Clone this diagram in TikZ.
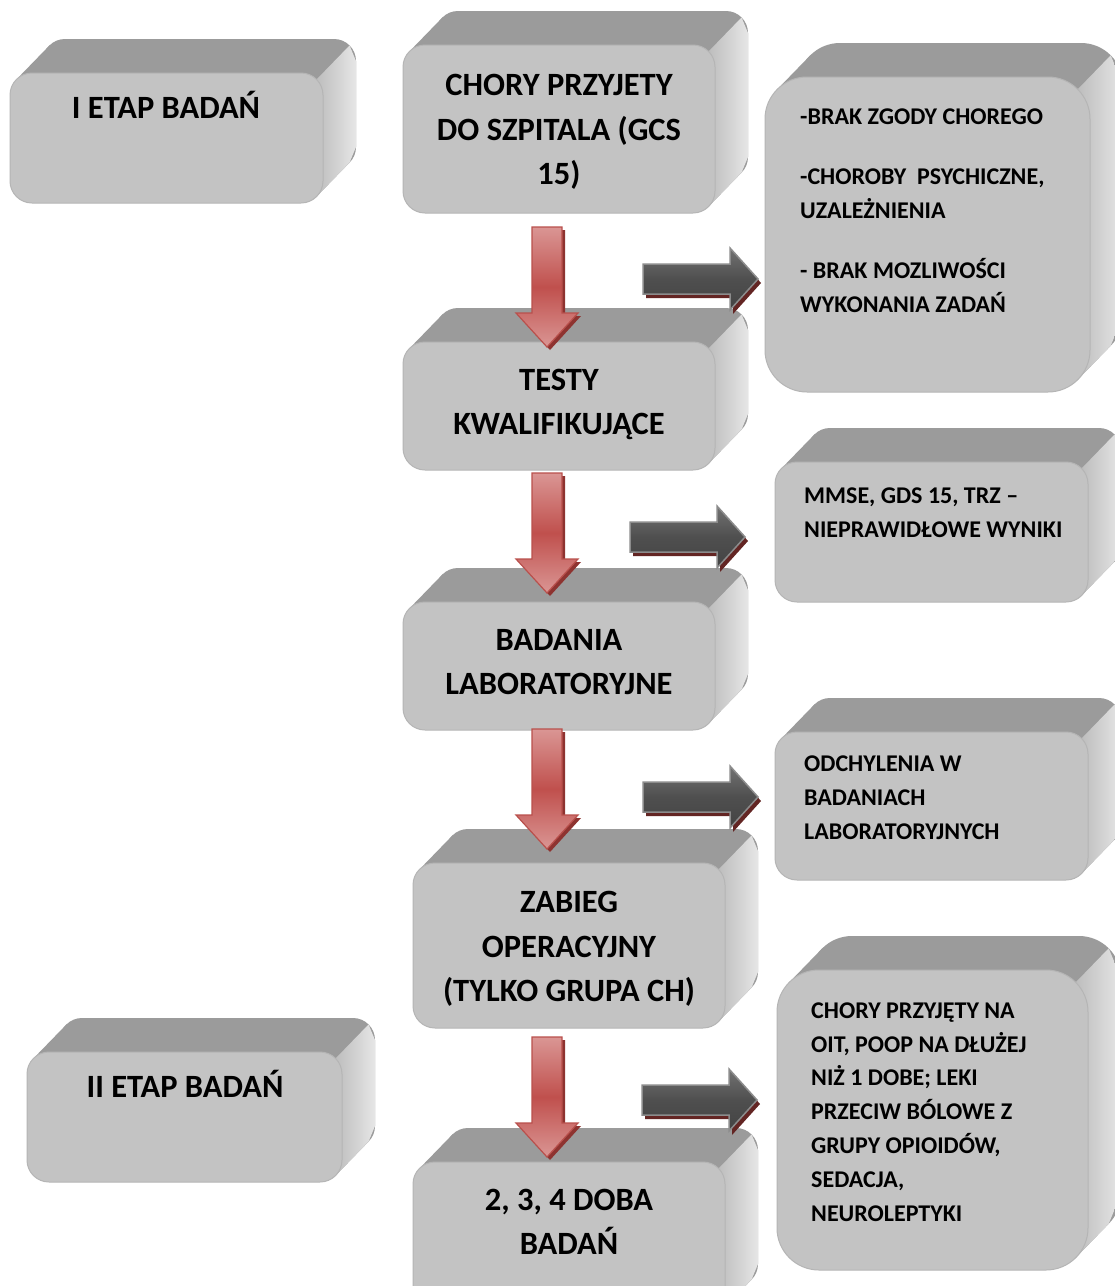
\documentclass[tikz,border=0pt]{standalone}
\usepackage{fontspec}
\setmainfont{Carlito}
\definecolor{frontc}{HTML}{C3C3C3}
\definecolor{topc}{HTML}{9B9B9B}
\definecolor{sidel}{HTML}{BDBDBD}
\definecolor{sider}{HTML}{E6E6E6}
\definecolor{edgec}{HTML}{B5B5B5}
\definecolor{pinkc}{HTML}{DA9694}
\definecolor{redc}{HTML}{C0504D}
\definecolor{redline}{HTML}{B9504C}
\definecolor{redshadow}{HTML}{8E3330}
\definecolor{darkc}{HTML}{4F4F4F}
\definecolor{darkline}{HTML}{8C8C8C}
\definecolor{darkshadow}{HTML}{632523}
\newcommand\boxthreed[5]{%
  \fill[topc,rounded corners=#5pt] (#1+33,#2-34) rectangle (#3+33,#4-34);
  \fill[topc] ({#1+0.293*#5},{#2+0.293*#5}) -- ++(33,-34)
     -- ({#3-0.293*#5+33},{#4-0.293*#5-34}) -- ({#3-0.293*#5},{#4-0.293*#5}) -- cycle;
  \shade[left color=sidel,right color=sider] ({#3-0.293*#5},{#2+0.293*#5}) -- ++(33,-34)
     -- (#3+33,{#2-34+#5}) -- (#3+33,{#4-34-#5}) -- ({#3-0.293*#5+33},{#4-0.293*#5-34})
     -- ({#3-0.293*#5},{#4-0.293*#5}) -- cycle;
  \filldraw[fill=frontc,draw=edgec,line width=1pt,rounded corners=#5pt] (#1,#2) rectangle (#3,#4);
}
\tikzset{
  ctext/.style={font=\fontsize{32.5}{44.5}\selectfont\bfseries,align=center,inner sep=0pt,anchor=base},
  rtext/.style={font=\fontsize{24}{34}\selectfont\bfseries,align=left,inner sep=0pt,anchor=base west},
  redarr/.pic={
    \fill[redshadow] (-12,3) -- (18,3) -- (18,89) -- (34,89) -- (3,123) -- (-28,89) -- (-12,89) -- cycle;
    \shade[top color=pinkc,bottom color=pinkc,middle color=redc,draw=redline,line width=1.2pt]
      (-15,0) -- (15,0) -- (15,86) -- (31,86) -- (0,120) -- (-31,86) -- (-15,86) -- cycle;
  },
  darkarr/.pic={
    \fill[darkshadow] (3,-12) -- (90,-12) -- (90,-28) -- (118,4) -- (90,35) -- (90,19) -- (3,19) -- cycle;
    \shade[top color=darkc!80!white,bottom color=darkc!85!black,middle color=darkc,draw=darkline,line width=1.5pt]
      (0,-15) -- (87,-15) -- (87,-31) -- (115,0) -- (87,31) -- (87,15) -- (0,15) -- cycle;
  }
}
\begin{document}
\begin{tikzpicture}[x=1pt,y=-1pt]
\useasboundingbox (0,0) rectangle (1115,1286);
\clip (0,0) rectangle (1115,1286);
\fill[white] (0,0) rectangle (1115,1286);
% boxes
\boxthreed{10}{73}{323}{203}{22}
\boxthreed{403}{45}{715}{213}{22}
\boxthreed{765}{77}{1090}{392}{42}
\boxthreed{403}{342}{715}{470}{22}
\boxthreed{775}{462}{1088}{602}{22}
\boxthreed{403}{602}{715}{730}{22}
\boxthreed{775}{732}{1088}{880}{22}
\boxthreed{413}{863}{725}{1028}{22}
\boxthreed{777}{970}{1088}{1270}{42}
\boxthreed{27}{1052}{342}{1182}{22}
\boxthreed{413}{1162}{725}{1320}{22}
% texts (base anchor = baseline of last line)
\node[ctext] (etap1) at (166,118.5) {I ETAP BADAŃ};
\node[ctext] (chory) at (559,184.5) {CHORY PRZYJETY\\DO SZPITALA (GCS\\15)};
\node[ctext] (testy) at (559,434.5) {TESTY\\KWALIFIKUJĄCE};
\node[ctext] (badania) at (559,694.5) {BADANIA\\LABORATORYJNE};
\node[ctext] (zabieg) at (569,1001.5) {ZABIEG\\OPERACYJNY\\(TYLKO GRUPA CH)};
\node[ctext] (doba) at (569,1254.5) {2, 3, 4 DOBA\\BADAŃ};
\node[ctext] (etap2) at (185,1097.5) {II ETAP BADAŃ};
\node[rtext] (brak) at (800,312) {-BRAK ZGODY CHOREGO\\[26pt]-CHOROBY\ \ PSYCHICZNE,\\UZALEŻNIENIA\\[26pt]- BRAK MOZLIWOŚCI\\WYKONANIA ZADAŃ};
\node[rtext] (mmse) at (804,537) {MMSE, GDS 15, TRZ –\\NIEPRAWIDŁOWE WYNIKI};
\node[rtext] (odch) at (804,839) {ODCHYLENIA W\\BADANIACH\\LABORATORYJNYCH};
\node[rtext,font=\fontsize{24}{33.8}\selectfont\bfseries] (oit) at (811,1221) {CHORY PRZYJĘTY NA\\OIT, POOP NA DŁUŻEJ\\NIŻ 1 DOBE; LEKI\\PRZECIW BÓLOWE Z\\GRUPY OPIOIDÓW,\\SEDACJA,\\NEUROLEPTYKI};
% arrow anchors
\coordinate (d1) at (547,227);
\coordinate (d2) at (547,473);
\coordinate (d3) at (547,729);
\coordinate (d4) at (547,1037);
\coordinate (r1) at (643,279);
\coordinate (r2) at (630,537);
\coordinate (r3) at (643,797);
\coordinate (r4) at (642,1100);
\pic at (d1) {redarr};
\pic at (d2) {redarr};
\pic at (d3) {redarr};
\pic at (d4) {redarr};
\pic at (r1) {darkarr};
\pic at (r2) {darkarr};
\pic at (r3) {darkarr};
\pic at (r4) {darkarr};
\end{tikzpicture}
\end{document}
